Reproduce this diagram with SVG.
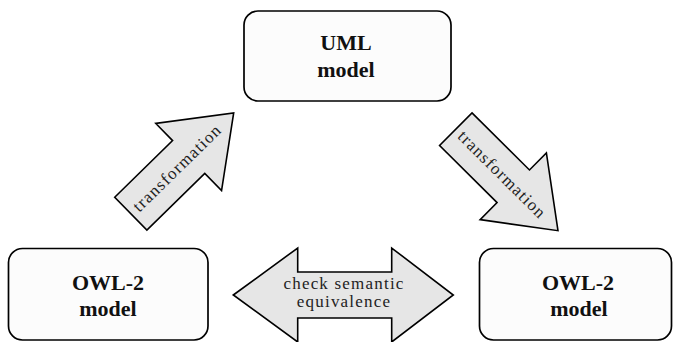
<svg xmlns="http://www.w3.org/2000/svg" width="673" height="342" viewBox="0 0 673 342">
<style>
.box{fill:#fcfcfc;stroke:#000;stroke-width:1.7}
.arr{fill:#e6e6e6;stroke:#000;stroke-width:1.6;stroke-linejoin:miter}
.sf{font-family:"Liberation Serif","Times New Roman","Noto Serif","DejaVu Serif",Tinos,FreeSerif,Times,serif}
.bt{font-weight:bold;font-size:22px;text-anchor:middle;fill:#111}
.at{font-size:17px;letter-spacing:1.2px;text-anchor:middle;fill:#222}
</style>
<defs>
<path id="fat" d="M0,-23 L81,-23 L81,-47 L144,0 L81,47 L81,23 L0,23 Z"/>
</defs>
<rect width="673" height="342" fill="#fff"/>
<g id="connectors" class="sf">
<g id="arrow-left">
<use href="#fat" class="arr" transform="translate(130.8,213.7) rotate(-44.4)"/>
<text class="at" transform="translate(177.5,168.3) rotate(-44.4)" y="5">transformation</text>
</g>
<g id="arrow-right">
<use href="#fat" class="arr" transform="translate(455.8,129.2) rotate(44.8)"/>
<text class="at" transform="translate(501.7,175) rotate(44.8)" y="5">transformation</text>
</g>
<g id="arrow-double">
<polygon class="arr" points="233.3,295 297.7,248 297.7,272 391.7,272 391.7,248 453.3,295 391.7,342 391.7,318 297.7,318 297.7,342"/>
<text class="at" x="344" y="289">check semantic</text>
<text class="at" x="344" y="306.5">equivalence</text>
</g>
</g>
<g class="sf">
<g id="node-uml">
<rect class="box" x="244" y="11" width="207" height="90" rx="14"/>
<text class="bt" x="346" y="49.5">UML</text>
<text class="bt" x="346" y="77">model</text>
</g>
<g id="node-owl-left">
<rect class="box" x="8.5" y="248.5" width="199.5" height="91.5" rx="14"/>
<text class="bt" x="108" y="290">OWL-2</text>
<text class="bt" x="108" y="316">model</text>
</g>
<g id="node-owl-right">
<rect class="box" x="479.5" y="248.5" width="192" height="91.5" rx="14"/>
<text class="bt" x="578" y="290">OWL-2</text>
<text class="bt" x="579" y="316">model</text>
</g>
</g>
</svg>
